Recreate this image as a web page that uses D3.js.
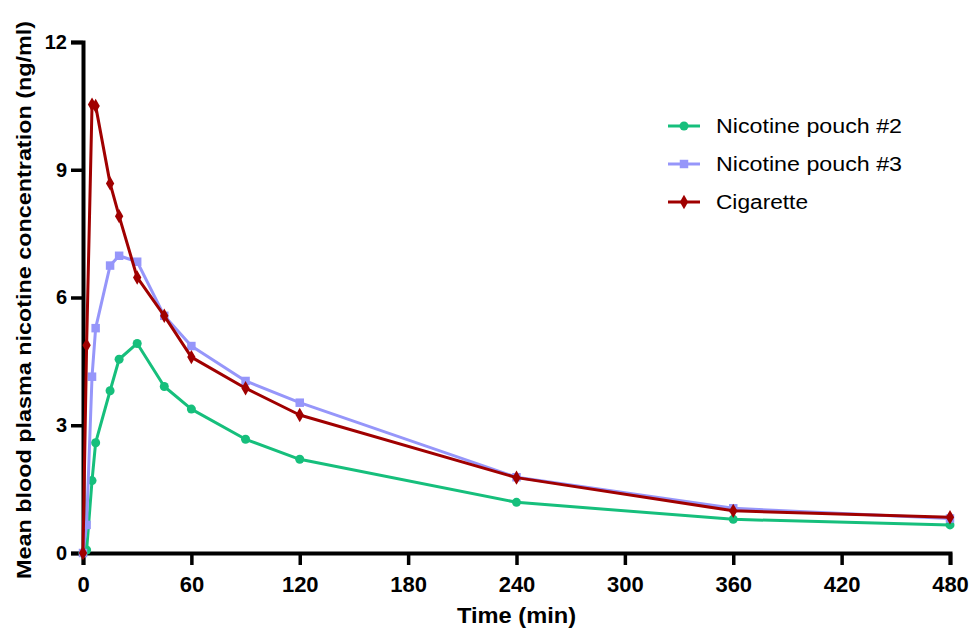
<!DOCTYPE html>
<html>
<head>
<meta charset="utf-8">
<script src="https://cdn.jsdelivr.net/npm/d3@7"></script>
<style>
  body { margin: 0; background: #fff; }
  svg { display: block; font-family: "Liberation Sans", Arial, sans-serif; }
</style>
</head>
<body>
<svg id="chart" width="970" height="632"></svg>
<script>
// sampling times (min)
const times = [0, 2, 5, 7, 15, 20, 30, 45, 60, 90, 120, 240, 360, 480];

// mean plasma nicotine (ng/ml)
const pouch2 = [0, 0.07, 1.70, 2.59, 3.81, 4.55, 4.92, 3.91, 3.38, 2.67, 2.20, 1.19, 0.79, 0.66];
const pouch3 = [0, 0.66, 4.14, 5.28, 6.75, 6.98, 6.84, 5.57, 4.86, 4.04, 3.53, 1.78, 1.05, 0.81];
const cigarette = [0, 4.88, 10.53, 10.50, 8.68, 7.91, 6.47, 5.57, 4.60, 3.87, 3.24, 1.77, 0.99, 0.84];

const xTicks = [0, 60, 120, 180, 240, 300, 360, 420, 480];
const yTicks = [0, 3, 6, 9, 12];

const seriesList = [
  { name: 'Nicotine pouch #2', values: pouch2, color: 'rgb(22, 191, 124)', symbol: d3.symbolCircle, size: 64, textLen: 186 },
  { name: 'Nicotine pouch #3', values: pouch3, color: 'rgb(150, 150, 250)', symbol: d3.symbolSquare, size: 72, textLen: 186 },
  { name: 'Cigarette', values: cigarette, color: 'rgb(160, 0, 0)', symbol: d3.symbolDiamond, size: 60, textLen: 92 }
];

const svg = d3.select('#chart');

const x = d3.scaleLinear().domain([0, 480]).range([83, 950]);
const y = d3.scaleLinear().domain([0, 12]).range([553, 42]);

//線條
const line = d3.line()
  .x((d) => x(d[0]))
  .y((d) => y(d[1]));

// 左軸
const yAxis = svg.append('g')
  .attr('transform', `translate(${x(0)},0)`)
  .call(d3.axisLeft(y).tickValues(yTicks).tickSize(12).tickPadding(4).tickFormat(d3.format('d')));

// 下軸
const xAxis = svg.append('g')
  .attr('transform', `translate(0,${y(0)})`)
  .call(d3.axisBottom(x).tickValues(xTicks).tickSize(12).tickPadding(11).tickFormat(d3.format('d')));

[xAxis, yAxis].forEach((g) => {
  g.select('.domain').attr('stroke', '#000').attr('stroke-width', 4);
  g.selectAll('.tick line').attr('stroke', '#000').attr('stroke-width', 3.5);
  g.selectAll('.tick text')
    .attr('fill', '#000')
    .style('font-size', '20px')
    .style('font-weight', 'bold')
    .style('font-family', '"Liberation Sans", Arial, sans-serif');
});
xAxis.selectAll('.tick text').style('font-size', '22px');

// 座標軸標題
svg.append('text')
  .attr('x', x(240))
  .attr('y', 623)
  .attr('text-anchor', 'middle')
  .attr('textLength', 119)
  .attr('lengthAdjust', 'spacingAndGlyphs')
  .style('font-size', '22px')
  .style('font-weight', 'bold')
  .text('Time (min)');

svg.append('text')
  .attr('transform', 'translate(31,300) rotate(-90)')
  .attr('text-anchor', 'middle')
  .attr('textLength', 558)
  .attr('lengthAdjust', 'spacingAndGlyphs')
  .style('font-size', '21px')
  .style('font-weight', 'bold')
  .text('Mean blood plasma nicotine concentration (ng/ml)');

// 資料線與標記
seriesList.forEach((s) => {
  const pts = times.map((t, i) => [t, s.values[i]]);
  const g = svg.append('g');
  g.append('path')
    .datum(pts)
    .attr('d', line)
    .attr('fill', 'none')
    .attr('stroke', s.color)
    .attr('stroke-width', 3)
    .attr('stroke-linejoin', 'round');
  g.selectAll('path.marker')
    .data(pts)
    .enter()
    .append('path')
    .attr('class', 'marker')
    .attr('d', d3.symbol().type(s.symbol).size(s.size))
    .attr('transform', (d) => `translate(${x(d[0])},${y(d[1])})`)
    .attr('fill', s.color);
});

// 圖例
const legend = svg.append('g').attr('transform', 'translate(668,126)');
seriesList.forEach((s, i) => {
  const row = legend.append('g').attr('transform', `translate(0,${i * 38})`);
  row.append('line')
    .attr('x1', 0).attr('x2', 32)
    .attr('stroke', s.color)
    .attr('stroke-width', 3);
  row.append('path')
    .attr('d', d3.symbol().type(s.symbol).size(s.size))
    .attr('transform', 'translate(16,0)')
    .attr('fill', s.color);
  row.append('text')
    .attr('x', 48)
    .attr('y', 7)
    .attr('textLength', s.textLen)
    .attr('lengthAdjust', 'spacingAndGlyphs')
    .style('font-size', '20px')
    .text(s.name);
});
</script>
</body>
</html>
